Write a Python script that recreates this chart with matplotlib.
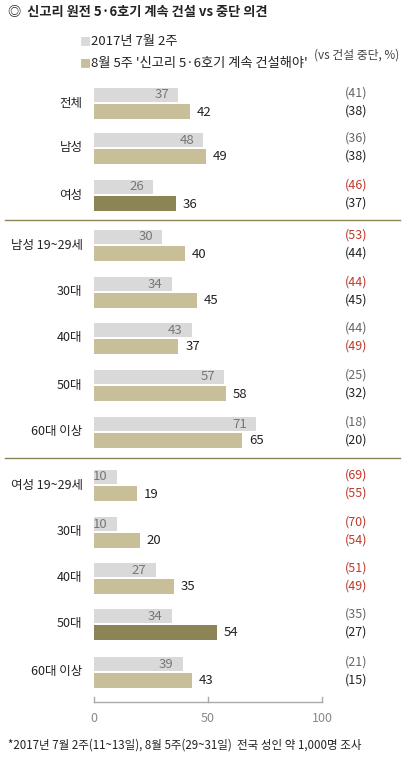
import matplotlib
matplotlib.use("Agg")
import matplotlib.pyplot as plt

plt.rcParams['font.family'] = ['Noto Sans CJK KR', 'DejaVu Sans']

categories = ["전체", "남성", "여성", "남성 19~29세", "30대", "40대", "50대", "60대 이상",
              "여성 19~29세", "30대", "40대", "50대", "60대 이상"]
july = [37, 48, 26, 30, 34, 43, 57, 71, 10, 10, 27, 34, 39]
aug = [42, 49, 36, 40, 45, 37, 58, 65, 19, 20, 35, 54, 43]
july_stop = [41, 36, 46, 53, 44, 44, 25, 18, 69, 70, 51, 35, 21]
aug_stop = [38, 38, 37, 44, 45, 49, 32, 20, 55, 54, 49, 27, 15]
july_red = [False, False, True, True, True, False, False, False, True, True, True, False, False]
aug_red = [False, False, False, False, False, True, False, False, True, True, True, False, False]
highlight = [False, False, True, False, False, False, False, False, False, False, False, True, False]

W, H = 419, 757
fig = plt.figure(figsize=(W/100, H/100), dpi=100)
x0, x1 = 94, 322
ytop, ybot = 0, 757
ax = fig.add_axes([x0/W, 0, (x1-x0)/W, 1])
ax.set_xlim(0, 100)
ax.set_ylim(ybot, ytop)
ax.axis('off')

rows = [103, 148, 195, 245, 292, 338, 385, 432, 485, 532, 578, 624, 672]
GRAY = '#D9D9D9'; TAN = '#C8BE98'; DARK = '#8C8455'; RED = '#C0392B'
for i, y in enumerate(rows):
    ax.barh(y - 8, july[i], height=14, color=GRAY)
    ax.barh(y + 8, aug[i], height=15, color=DARK if highlight[i] else TAN)
    ax.text(july[i] - 4, y - 8, str(july[i]), ha='right', va='center', fontsize=9.5, color='#777777')
    ax.text(aug[i] + 3, y + 9, str(aug[i]), ha='left', va='center', fontsize=9.5, color='#222222')
    ax.text(-5, y, categories[i], ha='right', va='center', fontsize=9, color='#222222')
    ax.text(115, y - 10, f"({july_stop[i]})", ha='center', va='center', fontsize=9,
            color=RED if july_red[i] else '#666666')
    ax.text(115, y + 8, f"({aug_stop[i]})", ha='center', va='center', fontsize=9,
            color=RED if aug_red[i] else '#222222')

ax.plot([0, 100], [702, 702], color='#AAAAAA', lw=1, clip_on=False)
for t in [0, 50, 100]:
    ax.plot([t, t], [697, 702], color='#AAAAAA', lw=1, clip_on=False)
    ax.text(t, 718, str(t), ha='center', va='center', fontsize=9, color='#888888')

for y in [220, 458]:
    fig.add_artist(plt.Line2D([5/W, 400/W], [1 - y/H, 1 - y/H], color='#8C8455', lw=1))

fig.text(8/W, 1 - 12/H, "◎  신고리 원전 5·6호기 계속 건설 vs 중단 의견", fontsize=9.5, fontweight='bold',
         va='center', ha='left', color='#222222')
fig.text(80/W, 1 - 42/H, "■", fontsize=8, color=GRAY, va='center')
fig.text(91/W, 1 - 42/H, "2017년 7월 2주", fontsize=9.5, color='#222222', va='center')
fig.text(80/W, 1 - 64/H, "■", fontsize=8, color=TAN, va='center')
fig.text(91/W, 1 - 64/H, "8월 5주 '신고리 5·6호기 계속 건설해야'", fontsize=9.5, color='#222222', va='center')
fig.text(357/W, 1 - 55/H, "(vs 건설 중단, %)", fontsize=8.5, color='#444444', va='center', ha='center')
fig.text(8/W, 1 - 745/H, "*2017년 7월 2주(11~13일), 8월 5주(29~31일)  전국 성인 약 1,000명 조사",
         fontsize=8.3, color='#222222', va='center', ha='left')

fig.savefig("out.png", dpi=100, facecolor='white')
